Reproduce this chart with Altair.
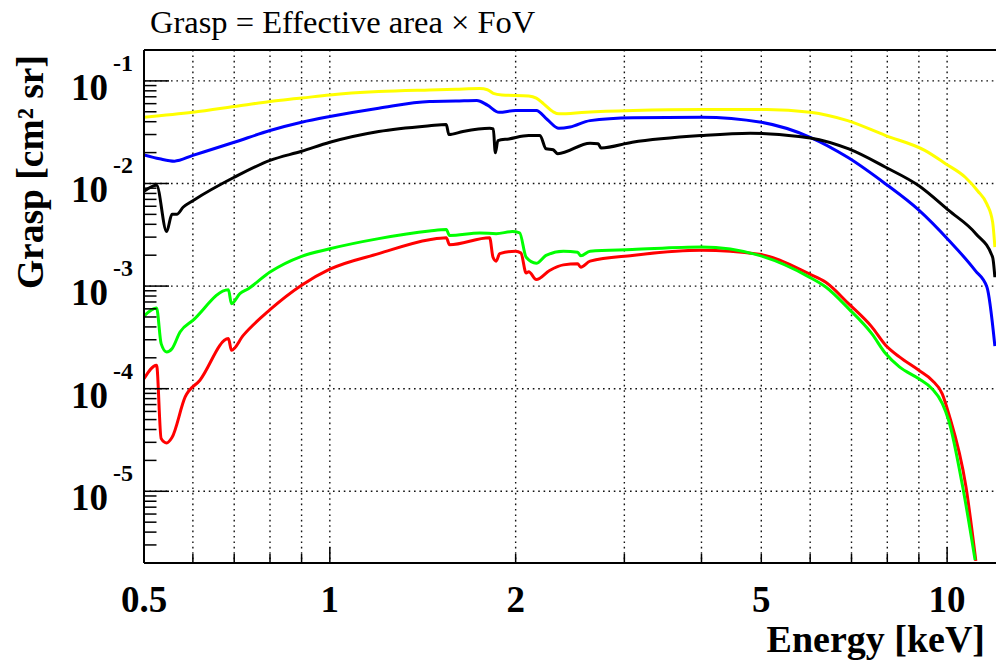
import altair as alt
import pandas as pd

# ---- curve data: energy [keV] and grasp [cm^2 sr] ----
yellow_e = [0.5, 0.6, 0.7, 0.8, 0.9, 1.0, 1.2, 1.45, 1.6, 1.75, 1.8, 1.84, 1.9, 2.1, 2.16, 2.22, 2.3, 2.35,
            2.6, 3.1, 4.0, 5.1, 6.0, 6.9, 7.95, 9.2, 9.94, 10.7, 11.2, 11.6, 11.85, 11.95]
yellow_g = [0.0443, 0.0494, 0.0562, 0.063, 0.068, 0.073, 0.0787, 0.0817, 0.083, 0.0841, 0.082, 0.0757, 0.073,
            0.0714, 0.068, 0.0597, 0.050, 0.0477, 0.0495, 0.0514, 0.0526, 0.0526, 0.0495, 0.041, 0.0293, 0.021,
            0.0156, 0.0115, 0.0085, 0.0063, 0.0042, 0.0024]

blue_e = [0.5, 0.53, 0.56, 0.6, 0.7, 0.8, 0.9, 1.0, 1.2, 1.45, 1.6, 1.73, 1.8, 1.88, 2.0, 2.16, 2.25, 2.35,
          2.45, 2.64, 3.1, 4.0, 5.0, 6.0, 6.9, 7.95, 9.0, 10.06, 11.1, 11.6, 11.95]
blue_g = [0.019, 0.0174, 0.0165, 0.0188, 0.0252, 0.0328, 0.0395, 0.0449, 0.0541, 0.063, 0.0635, 0.0643, 0.058,
          0.0494, 0.0514, 0.0514, 0.042, 0.0345, 0.0355, 0.041, 0.0436, 0.0443, 0.0395, 0.0282, 0.018, 0.0099,
          0.0055, 0.0028, 0.00142, 0.00098, 0.00026]

black_e = [0.5, 0.524, 0.544, 0.555, 0.565, 0.579, 0.6, 0.7, 0.8, 0.9, 1.0, 1.2, 1.45, 1.544, 1.559, 1.643,
           1.815, 1.84, 1.854, 1.872, 1.95, 2.1, 2.19, 2.24, 2.3, 2.34, 2.64, 2.72, 2.75, 3.09, 4.0, 4.8, 5.75,
           6.0, 6.93, 7.95, 9.0, 10.06, 11.13, 11.85, 11.95]
black_g = [0.0084, 0.0096, 0.0034, 0.0050, 0.0050, 0.0059, 0.0068, 0.0115, 0.0168, 0.0206, 0.0252, 0.0321,
           0.0365, 0.0376, 0.030, 0.0321, 0.0345, 0.034, 0.0199, 0.0262, 0.0272, 0.0293, 0.0293, 0.0218, 0.0213,
           0.0195, 0.0247, 0.0244, 0.0222, 0.0252, 0.0293, 0.0309, 0.0287, 0.0278, 0.0217, 0.0144, 0.0095,
           0.00546, 0.00324, 0.00191, 0.00122]

green_e = [0.5, 0.524, 0.533, 0.544, 0.555, 0.572, 0.6, 0.685, 0.693, 0.715, 0.738, 0.8, 0.9, 1.0, 1.2, 1.45,
           1.544, 1.563, 1.75, 1.86, 1.975, 2.03, 2.08, 2.16, 2.24, 2.39, 2.52, 2.55, 2.64, 3.09, 4.0, 4.96,
           5.97, 6.36, 6.93, 7.55, 7.95, 8.37, 9.0, 9.45, 9.82, 10.06, 10.6, 11.1]
green_g = [0.00051, 0.00061, 0.000275, 0.000228, 0.000245, 0.000357, 0.000463, 0.000923, 0.000674, 0.000843,
           0.000944, 0.00137, 0.00195, 0.00231, 0.0029, 0.00344, 0.00356, 0.00312, 0.00329, 0.00324, 0.0034,
           0.0033, 0.00191, 0.00167, 0.00199, 0.00219, 0.00214, 0.00197, 0.00219, 0.00227, 0.0024, 0.00199,
           0.00123, 0.00098, 0.0006, 0.000344, 0.00022, 0.000163, 0.000125, 0.0001, 0.000072, 0.000049,
           0.000011, 0.00000214]

red_e = [0.5, 0.524, 0.533, 0.544, 0.555, 0.583, 0.616, 0.685, 0.693, 0.724, 0.8, 0.9, 1.0, 1.2, 1.45, 1.544,
         1.563, 1.815, 1.838, 1.86, 1.884, 2.0, 2.04, 2.08, 2.1, 2.16, 2.27, 2.39, 2.52, 2.55, 2.64, 3.09, 4.0,
         4.96, 5.97, 6.36, 6.93, 7.55, 7.95, 8.37, 9.0, 9.45, 9.82, 10.06, 10.73, 11.13]
red_g = [0.000125, 0.000169, 0.0000327, 0.0000296, 0.0000334, 0.000083, 0.000121, 0.000308, 0.000237, 0.000331,
         0.000589, 0.00102, 0.00146, 0.00207, 0.00283, 0.00296, 0.00253, 0.00296, 0.00191, 0.00175, 0.00207,
         0.00219, 0.0021, 0.00134, 0.00138, 0.00116, 0.00142, 0.00161, 0.00165, 0.00153, 0.00175, 0.00199,
         0.00223, 0.00204, 0.00132, 0.00109, 0.00067, 0.0004, 0.000265, 0.000204, 0.000151, 0.000121, 0.000089,
         0.000057, 0.000011, 0.0000021]

series_names = ["yellow", "blue", "black", "red", "green"]
series_colors = ["#ffff00", "#0000ff", "#000000", "#ff0000", "#00ff00"]
series_data = {
    "yellow": (yellow_e, yellow_g),
    "blue": (blue_e, blue_g),
    "black": (black_e, black_g),
    "red": (red_e, red_g),
    "green": (green_e, green_g),
}

# ---- axis values and labels ----
x_label_values = [0.5, 1, 2, 5, 10]
x_label_text = ["0.5", "1", "2", "5", "10"]
x_grid_values = [0.6, 0.7, 0.8, 0.9, 1, 2, 3, 4, 5, 6, 7, 8, 9, 10]
x_minor_ticks = [0.6, 0.7, 0.8, 0.9, 2, 3, 4, 5, 6, 7, 8, 9]
x_major_ticks = [1, 10]
y_decades = [1e-1, 1e-2, 1e-3, 1e-4, 1e-5]
y_exponents = ["-1", "-2", "-3", "-4", "-5"]
y_minor_ticks = [m * d for d in [1e-6, 1e-5, 1e-4, 1e-3, 1e-2, 1e-1] for m in range(2, 10)
                 if 2e-6 <= m * d <= 0.2]

title_text = "Grasp = Effective area \u00d7 FoV"
x_title = "Energy [keV]"
y_title = "Grasp [cm\u00b2 sr]"

W, H = 852, 513
FONT = "Liberation Serif"

xs = alt.Scale(type="log", domain=[0.5, 12], nice=False)
ys = alt.Scale(type="log", domain=[2e-6, 0.2], nice=False)

rows = []
for name in series_names:
    e, g = series_data[name]
    for i, (ee, gg) in enumerate(zip(e, g)):
        rows.append({"series": name, "energy": ee, "grasp": gg, "idx": i})
curves = pd.DataFrame(rows)
one = pd.DataFrame({"k": [0]})

grid_style = dict(color="#111", strokeWidth=1.4, strokeDash=[1.6, 3.8])
grid_x = alt.Chart(pd.DataFrame({"e": x_grid_values})).mark_rule(**grid_style).encode(
    x=alt.X("e:Q", scale=xs, axis=None), y=alt.value(0), y2=alt.value(H))
grid_y = alt.Chart(pd.DataFrame({"v": y_decades})).mark_rule(**grid_style).encode(
    y=alt.Y("v:Q", scale=ys, axis=None), x=alt.value(0), x2=alt.value(W))

lines = alt.Chart(curves).mark_line(strokeWidth=3, clip=True, interpolate="monotone").encode(
    x=alt.X("energy:Q", scale=xs, axis=None),
    y=alt.Y("grasp:Q", scale=ys, axis=None),
    color=alt.Color("series:N", scale=alt.Scale(domain=series_names, range=series_colors), legend=None),
    detail="series:N",
    order="idx:Q",
)

tick_style = dict(color="black", strokeWidth=1.5)
xt_minor = alt.Chart(pd.DataFrame({"e": x_minor_ticks})).mark_rule(**tick_style).encode(
    x=alt.X("e:Q", scale=xs, axis=None), y=alt.value(H), y2=alt.value(H - 9))
xt_major = alt.Chart(pd.DataFrame({"e": x_major_ticks})).mark_rule(**tick_style).encode(
    x=alt.X("e:Q", scale=xs, axis=None), y=alt.value(H), y2=alt.value(H - 16))
yt_major = alt.Chart(pd.DataFrame({"v": y_decades})).mark_rule(**tick_style).encode(
    y=alt.Y("v:Q", scale=ys, axis=None), x=alt.value(0), x2=alt.value(25))
yt_minor = alt.Chart(pd.DataFrame({"v": y_minor_ticks})).mark_rule(**tick_style).encode(
    y=alt.Y("v:Q", scale=ys, axis=None), x=alt.value(0), x2=alt.value(12.5))

frame_style = dict(color="black", strokeWidth=2)
frame_left = alt.Chart(one).mark_rule(**frame_style).encode(
    x=alt.value(0), y=alt.value(0), y2=alt.value(H))
frame_bottom = alt.Chart(one).mark_rule(**frame_style).encode(
    y=alt.value(H), x=alt.value(0), x2=alt.value(W))
frame_top = alt.Chart(one).mark_rule(**frame_style).encode(
    y=alt.value(0), x=alt.value(0), x2=alt.value(W))

ylab_df = pd.DataFrame({"v": y_decades, "exp": y_exponents})
ylab_base = alt.Chart(ylab_df).mark_text(
    font=FONT, fontWeight="bold", fontSize=37, align="right", baseline="alphabetic", dy=19
).encode(y=alt.Y("v:Q", scale=ys, axis=None), x=alt.value(-36), text=alt.value("10"))
ylab_exp = alt.Chart(ylab_df).mark_text(
    font=FONT, fontWeight="bold", fontSize=24, align="left", baseline="alphabetic", dy=-10
).encode(y=alt.Y("v:Q", scale=ys, axis=None), x=alt.value(-31), text="exp:N")

xlab = alt.Chart(pd.DataFrame({"e": x_label_values, "t": x_label_text})).mark_text(
    font=FONT, fontWeight="bold", fontSize=37, align="center", baseline="alphabetic"
).encode(x=alt.X("e:Q", scale=xs, axis=None), y=alt.value(H + 49), text="t:N")

title = alt.Chart(pd.DataFrame({"t": [title_text]})).mark_text(
    font=FONT, fontSize=32.5, align="left", baseline="alphabetic"
).encode(x=alt.value(6), y=alt.value(-17), text="t:N")

xtitle = alt.Chart(pd.DataFrame({"t": [x_title]})).mark_text(
    font=FONT, fontWeight="bold", fontSize=38, align="right", baseline="alphabetic"
).encode(x=alt.value(841), y=alt.value(601.7), text="t:N")

ytitle = alt.Chart(pd.DataFrame({"t": [y_title]})).mark_text(
    font=FONT, fontWeight="bold", fontSize=37.5, align="right", baseline="alphabetic", angle=270
).encode(x=alt.value(-100.7), y=alt.value(5), text="t:N")

chart = alt.layer(
    grid_x, grid_y, lines, xt_minor, xt_major, yt_major, yt_minor,
    frame_left, frame_bottom, frame_top,
    ylab_base, ylab_exp, xlab, title, xtitle, ytitle,
).properties(
    width=W, height=H,
    autosize=alt.AutoSizeParams(type="none"),
    padding={"left": 144, "top": 50, "right": 0, "bottom": 101},
    background="white",
).configure_view(stroke=None)

chart.save("out.html", embed_options={"renderer": "svg", "actions": False})
